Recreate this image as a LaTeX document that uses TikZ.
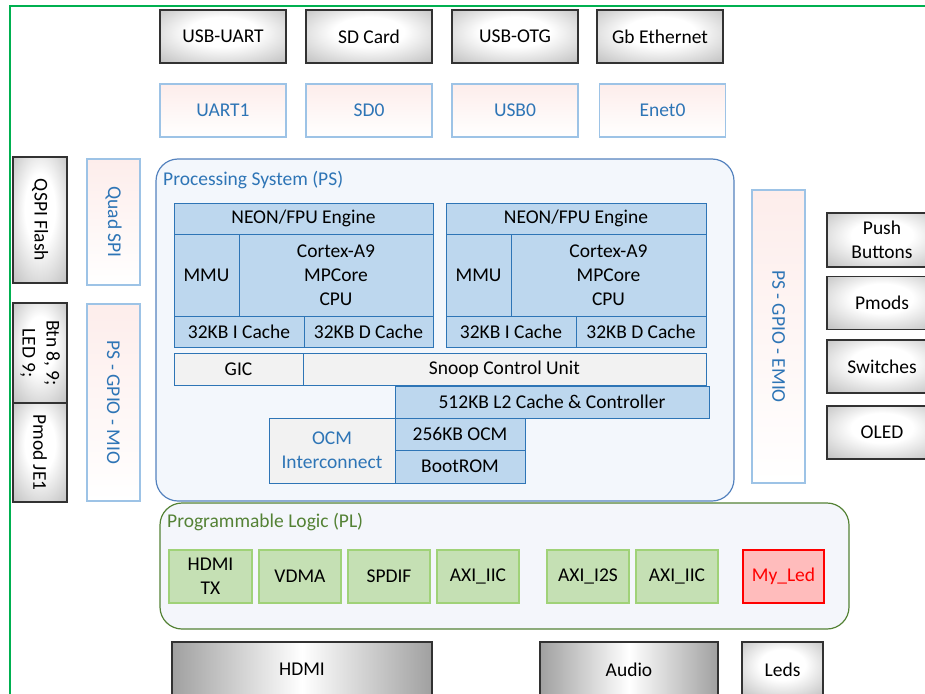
\documentclass[tikz,border=0pt]{standalone}
\usepackage{fontspec}
\setmainfont{Carlito}
\definecolor{frame}{RGB}{0,176,80}
\definecolor{hwline}{RGB}{50,50,50}
\definecolor{hwgray}{RGB}{160,160,160}
\definecolor{pinkline}{RGB}{157,195,230}
\definecolor{pinkfill}{RGB}{253,237,235}
\definecolor{bluetext}{RGB}{46,117,182}
\definecolor{psline}{RGB}{84,130,190}
\definecolor{psfill}{RGB}{243,247,252}
\definecolor{cpufill}{RGB}{189,215,238}
\definecolor{cpuline}{RGB}{46,117,182}
\definecolor{cellgray}{RGB}{242,242,242}
\definecolor{plline}{RGB}{84,130,53}
\definecolor{plfill}{RGB}{244,246,251}
\definecolor{blkfill}{RGB}{197,224,180}
\definecolor{blkline}{RGB}{160,210,120}
\definecolor{ledfill}{RGB}{255,188,188}
\definecolor{ledred}{RGB}{255,0,0}
\pgfdeclareradialshading{hwglow}{\pgfpoint{0bp}{6bp}}{color(0bp)=(white); color(14bp)=(white); color(48bp)=(hwgray); color(50bp)=(hwgray)}
\begin{document}
\begin{tikzpicture}[x=1pt,y=-1pt,
    every node/.style={font=\fontsize{19.5}{24}\selectfont, inner sep=0pt, align=center},
    hwbox/.style={draw=hwline, line width=1.5pt, shading=hwglow},
    hwbar/.style={draw=hwline, line width=1.5pt, left color=hwgray, right color=hwgray, middle color=white},
    periph/.style={draw=pinkline, line width=1.2pt, top color=pinkfill, bottom color=white, text=bluetext},
    cpucell/.style={draw=cpuline, line width=1pt, fill=cpufill},
    graycell/.style={draw=cpuline, line width=1pt, fill=cellgray},
    plblock/.style={draw=blkline, line width=1.2pt, fill=blkfill},
    ledblock/.style={draw=ledred, line width=1.2pt, fill=ledfill, text=ledred},
    container/.style={line width=1.2pt, rounded corners=22pt}]
\useasboundingbox (0,0) rectangle (925,693);
% Board frame
\draw[frame, line width=2pt] (10,6) rectangle (945,715);
% Board parts, top
\node[hwbox, minimum width=126, minimum height=53] (usbuart) at (223,36.5) {USB-UART};
\node[hwbox, minimum width=126, minimum height=53] (sdcard) at (369,36.5) {SD Card};
\node[hwbox, minimum width=126, minimum height=53] (usbotg) at (515,36.5) {USB-OTG};
\node[hwbox, minimum width=126, minimum height=53] (gbeth) at (660,36.5) {Gb Ethernet};
% PS peripherals
\node[periph, minimum width=126, minimum height=53] (uart1) at (223,110.5) {UART1};
\node[periph, minimum width=126, minimum height=53] (sd0) at (369,110.5) {SD0};
\node[periph, minimum width=126, minimum height=53] (usb0) at (515,110.5) {USB0};
\node[periph, minimum width=126, minimum height=53] (enet0) at (662.5,110.5) {Enet0};
% Left side
\node[hwbox, rotate=-90, minimum width=126, minimum height=54] (qspiflash) at (40,220) {QSPI Flash};
\node[hwbox, rotate=-90, minimum width=100, minimum height=54] (btnled) at (40,353) {Btn 8, 9;\\LED 9;};
\node[hwbox, rotate=-90, minimum width=99, minimum height=54] (pmodje) at (40,452.5) {Pmod JE1};
\node[periph, rotate=-90, minimum width=126, minimum height=53] (quadspi) at (113.5,222) {Quad SPI};
\node[periph, rotate=-90, minimum width=197, minimum height=53] (mio) at (113.5,402.5) {PS - GPIO - MIO};
% Right side
\node[periph, rotate=-90, minimum width=293, minimum height=53] (emio) at (778.5,336.5) {PS - GPIO - EMIO};
\node[hwbox, minimum width=110, minimum height=54] (pushbtn) at (882,240) {Push\\Buttons};
\node[hwbox, minimum width=110, minimum height=53] (pmods) at (882,303) {Pmods};
\node[hwbox, minimum width=110, minimum height=53] (switches) at (882,366.5) {Switches};
\node[hwbox, minimum width=110, minimum height=53] (oled) at (882,432.5) {OLED};
% Processing system
\node[container, draw=psline, fill=psfill, minimum width=578, minimum height=342] (ps) at (445,330) {};
\node[text=bluetext, anchor=west] (pslabel) at (163,180) {Processing System (PS)};
\node[cpucell, minimum width=259, minimum height=31] (neon0) at (303.5,218.5) {NEON/FPU Engine};
\node[cpucell, minimum width=65, minimum height=82] (mmu0) at (206.5,275) {MMU};
\node[cpucell, minimum width=194, minimum height=82] (core0) at (336,275) {Cortex-A9\\MPCore\\CPU};
\node[cpucell, minimum width=130, minimum height=31] (icache0) at (239,331.5) {32KB I Cache};
\node[cpucell, minimum width=129, minimum height=31] (dcache0) at (368.5,331.5) {32KB D Cache};
\node[cpucell, minimum width=260, minimum height=31] (neon1) at (576,218.5) {NEON/FPU Engine};
\node[cpucell, minimum width=65, minimum height=82] (mmu1) at (478.5,275) {MMU};
\node[cpucell, minimum width=195, minimum height=82] (core1) at (608.5,275) {Cortex-A9\\MPCore\\CPU};
\node[cpucell, minimum width=130, minimum height=31] (icache1) at (511,331.5) {32KB I Cache};
\node[cpucell, minimum width=130, minimum height=31] (dcache1) at (641,331.5) {32KB D Cache};
\node[graycell, minimum width=129, minimum height=32] (gic) at (238.5,369) {GIC};
\node[graycell, minimum width=403, minimum height=32] (scu) at (504.5,369) {Snoop Control Unit};
\node[cpucell, minimum width=314, minimum height=32] (l2) at (552,402) {512KB L2 Cache \& Controller};
\node[graycell, text=bluetext, minimum width=126, minimum height=65] (ocmic) at (332,450.5) {OCM\\Interconnect};
\node[cpucell, minimum width=130, minimum height=32] (ocm) at (460,434) {256KB OCM};
\node[cpucell, minimum width=130, minimum height=33] (bootrom) at (460,466.5) {BootROM};
% Programmable logic
\node[container, draw=plline, fill=plfill, minimum width=689, minimum height=126] (pl) at (504.5,566) {};
\node[text=plline, anchor=west] (pllabel) at (167,522) {Programmable Logic (PL)};
\node[plblock, minimum width=83, minimum height=53] (hdmitx) at (210.5,576.5) {HDMI\\TX};
\node[plblock, minimum width=82, minimum height=53] (vdma) at (300,576.5) {VDMA};
\node[plblock, minimum width=82, minimum height=53] (spdif) at (389,576.5) {SPDIF};
\node[plblock, minimum width=82, minimum height=53] (axiiic0) at (478,576.5) {AXI\_IIC};
\node[plblock, minimum width=82, minimum height=53] (axii2s) at (588,576.5) {AXI\_I2S};
\node[plblock, minimum width=82, minimum height=53] (axiiic1) at (677,576.5) {AXI\_IIC};
\node[ledblock, minimum width=81, minimum height=53] (myled) at (783.5,576.5) {My\_Led};
% Board parts, bottom
\node[hwbar, minimum width=260, minimum height=55] (hdmi) at (302,669.5) {HDMI};
\node[hwbar, minimum width=178, minimum height=55] (audio) at (629,669.5) {Audio};
\node[hwbox, minimum width=81, minimum height=55] (leds) at (782.5,669.5) {Leds};
\end{tikzpicture}
\end{document}
